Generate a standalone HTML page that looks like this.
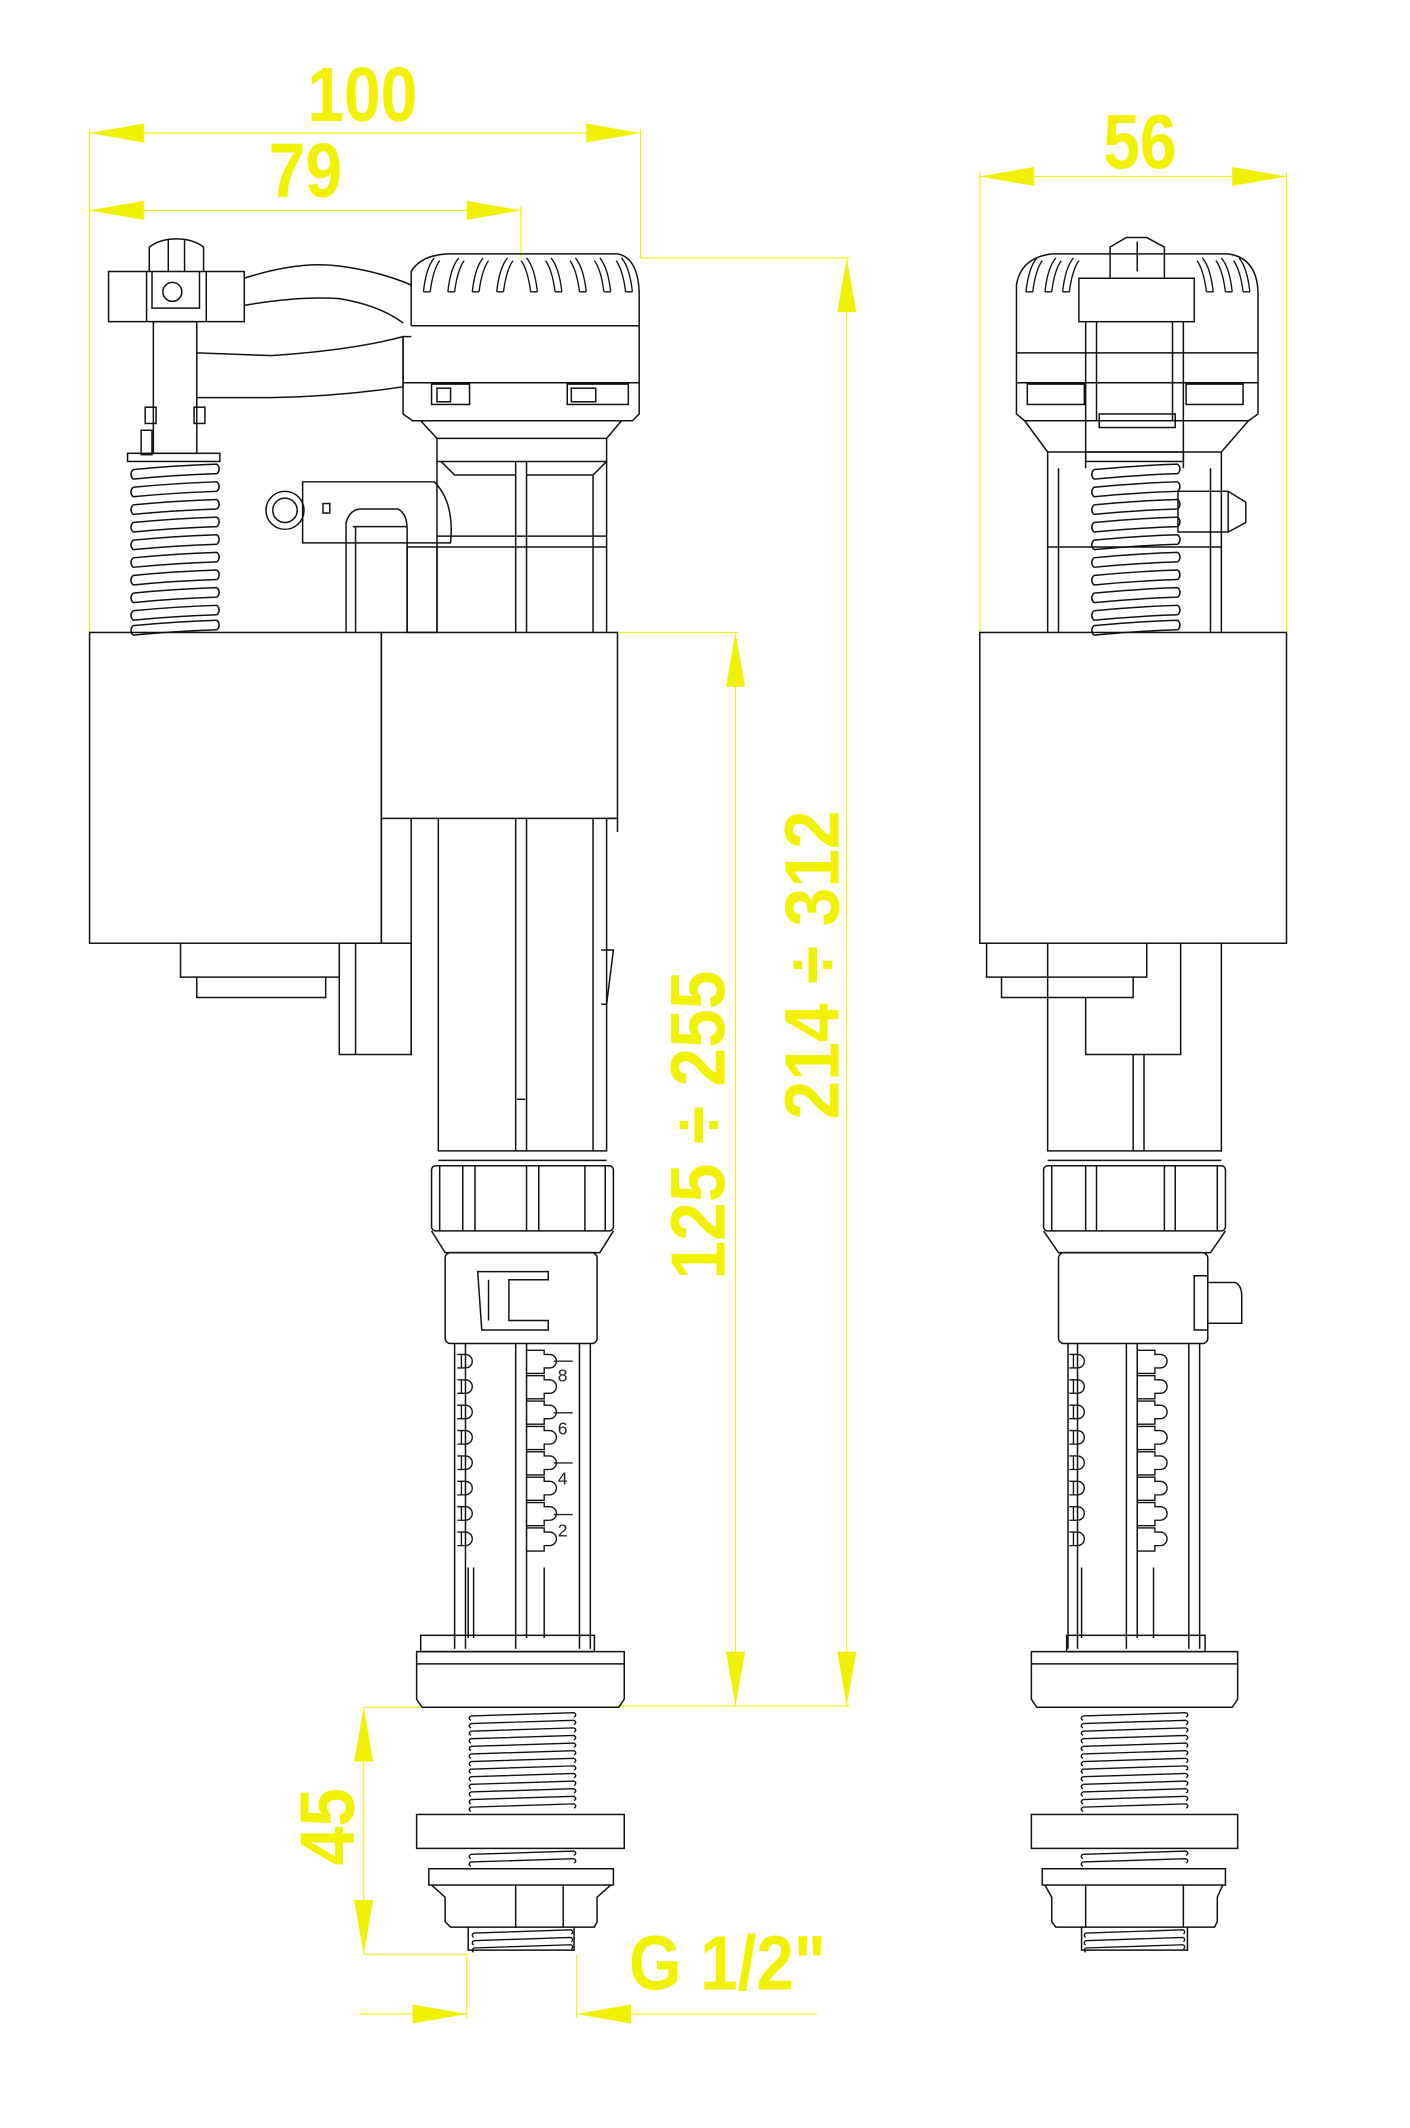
<!DOCTYPE html>
<html><head><meta charset="utf-8">
<style>
html,body{margin:0;padding:0;background:#fff;}
svg{display:block;}
.y{fill:#f2f200;font-family:"Liberation Sans Narrow","Liberation Sans",sans-serif;font-weight:bold;}
</style></head>
<body>
<svg width="1410" height="2128" viewBox="0 0 1039 1568" xmlns="http://www.w3.org/2000/svg" xmlns:xlink="http://www.w3.org/1999/xlink">
<defs>
 <path id="coil" d="M0,4 Q31,1 62,0 M0,11 Q31,8 62,7 M0,4 Q-3,7.5 0,11 M62,0 Q65,3.5 62,7" stroke="#111" stroke-width="1.1" fill="none"/>
 <path id="thr" d="M0,2.4 L76,0 M0,2.4 q-2.5,1.6 0,3.2 M76,0 q2.5,1.6 0,3.2" stroke="#111" stroke-width="1" fill="none"/>
 <path id="thr2" d="M0,2.4 L72,0 M0,2.4 q-2,1.6 0,3.2 M72,0 q2,1.6 0,3.2" stroke="#111" stroke-width="1" fill="none"/>
 <path id="tl" d="M0,-5 L6,-5 A5,5 0 0 1 6,5 L0,5 M3,-5 L3,5" stroke="#111" stroke-width="1" fill="none"/>
 <path id="tc" d="M0,-8 L13,-8 L13,-5 L17,-5 A5,5 0 0 1 17,5 L13,5 L13,9 L0,9" stroke="#111" stroke-width="1" fill="none"/>
 <path id="rib" d="M0,26 Q2,8 8,1 M5,26 Q7,10 12,3 M0,26 L5,26" stroke="#111" stroke-width="1" fill="none"/>
 <path id="ribr" d="M12,26 Q10,8 4,1 M7,26 Q5,10 0,3 M7,26 L12,26" stroke="#111" stroke-width="1" fill="none"/>
</defs>
<rect width="1039" height="1568" fill="#fff"/>
<!-- YELLOW DIMENSIONS -->
<g stroke="#f0f000" stroke-width="0.8" fill="none">
  <line x1="66" y1="98" x2="472" y2="98"/>
  <line x1="66" y1="155" x2="384" y2="155"/>
  <line x1="66" y1="95" x2="66" y2="466"/>
  <line x1="472" y1="95" x2="472" y2="190"/>
  <line x1="384" y1="152" x2="384" y2="190"/>
  <line x1="722" y1="130" x2="948" y2="130"/>
  <line x1="722" y1="127" x2="722" y2="466"/>
  <line x1="948" y1="127" x2="948" y2="466"/>
  <line x1="472" y1="190" x2="626" y2="190"/>
  <line x1="624" y1="190" x2="624" y2="1257"/>
  <line x1="455" y1="466" x2="544" y2="466"/>
  <line x1="542" y1="466" x2="542" y2="1257"/>
  <line x1="455" y1="1257" x2="626" y2="1257"/>
  <line x1="268" y1="1258" x2="310" y2="1258"/>
  <line x1="268" y1="1258" x2="268" y2="1440"/>
  <line x1="268" y1="1440" x2="345" y2="1440"/>
  <line x1="344" y1="1440" x2="344" y2="1487"/>
  <line x1="425" y1="1440" x2="425" y2="1487"/>
  <line x1="265" y1="1484" x2="344" y2="1484"/>
  <line x1="425" y1="1484" x2="602" y2="1484"/>
</g>
<g fill="#f0f000">
  <polygon points="66,98 106,91 106,105"/><polygon points="472,98 432,91 432,105"/>
  <polygon points="66,155 106,148 106,162"/><polygon points="384,155 344,148 344,162"/>
  <polygon points="722,130 762,123 762,137"/><polygon points="948,130 908,123 908,137"/>
  <polygon points="624,190 617,230 631,230"/><polygon points="624,1257 617,1217 631,1217"/>
  <polygon points="542,466 535,506 549,506"/><polygon points="542,1257 535,1217 549,1217"/>
  <polygon points="268,1258 261,1298 275,1298"/><polygon points="268,1440 261,1400 275,1400"/>
  <polygon points="344,1484 304,1477 304,1491"/><polygon points="425,1484 465,1477 465,1491"/>
</g>
<text class="y" font-size="54" text-anchor="middle" transform="translate(267,89) scale(0.9,1.05)">100</text>
<text class="y" font-size="54" text-anchor="middle" transform="translate(225,145) scale(0.9,1.05)">79</text>
<text class="y" font-size="54" text-anchor="middle" transform="translate(840,124) scale(0.9,1.05)">56</text>
<text class="y" font-size="54" text-anchor="middle" transform="translate(618,711) rotate(-90) scale(0.95,1.05)">214 ÷ 312</text>
<text class="y" font-size="54" text-anchor="middle" transform="translate(534,829) rotate(-90) scale(0.95,1.05)">125 ÷ 255</text>
<text class="y" font-size="54" text-anchor="middle" transform="translate(261,1346) rotate(-90) scale(0.95,1.05)">45</text>
<text class="y" font-size="54" text-anchor="middle" transform="translate(536,1466) scale(0.92,1.05)">G 1/2"</text>

<!-- BLACK DRAWING -->
<g stroke="#111" stroke-width="1.1" fill="none">
 <!-- LEFT VIEW: head -->
 <path d="M303,240 L303,200 Q310,188 330,187 L455,187 Q470,190 471,215 L471,282 L297,282 L297,305 L304,310 L466,310 L471,305 L471,282"/>
 <line x1="303" y1="240" x2="471" y2="240"/>
 <path d="M297,282 L297,248 L303,248"/>
 <rect x="318" y="283" width="28" height="15"/><rect x="418" y="283" width="45" height="15"/>
 <rect x="421" y="286" width="18" height="10"/><rect x="322" y="286" width="10" height="10"/>
 <path d="M310,310 L322,323 L322,466 M458,310 L447,323 L447,466"/>
 <line x1="322" y1="323" x2="447" y2="323"/>
 <line x1="322" y1="340" x2="447" y2="340"/>
 <line x1="380" y1="340" x2="380" y2="466"/><line x1="388" y1="340" x2="388" y2="466"/>
 <path d="M325,340 L335,350 L380,350 M388,350 L437,350 L447,340"/>
 <line x1="437" y1="350" x2="437" y2="466"/>
 <line x1="322" y1="395" x2="447" y2="395"/><line x1="322" y1="403" x2="447" y2="403"/>
 <!-- side inlet -->
 <path d="M223,355 L320,355 Q335,370 332,400 L223,400 Z"/>
 <circle cx="210" cy="376" r="14"/><circle cx="210" cy="376" r="9"/>
 <rect x="238" y="371" width="5" height="7"/>
 <path d="M255,466 L255,385 Q258,375 266,375 L293,375 Q300,378 300,390 L300,466"/>
 <line x1="260" y1="388" x2="300" y2="388"/><line x1="262" y1="388" x2="262" y2="466"/>
 <rect x="300" y="403" width="22" height="63"/>
 <!-- lever -->
 <path d="M80,237 L80,200 L180,200 L180,237 Z"/>
 <line x1="108" y1="200" x2="108" y2="237"/><line x1="152" y1="200" x2="152" y2="237"/>
 <path d="M112,200 L112,227 L147,227 L147,200"/><circle cx="127" cy="215" r="7"/>
 <path d="M110,200 L110,182 Q118,176 130,176 Q142,176 150,182 L150,200"/>
 <line x1="124" y1="177" x2="124" y2="200"/><line x1="136" y1="177" x2="136" y2="200"/>
 <path d="M180,205 Q220,192 250,196 Q280,200 303,210"/>
 <path d="M180,225 Q220,218 250,220 Q280,225 297,238"/>
 <path d="M145,260 L200,262 Q260,258 297,248 L297,285 Q250,292 200,293 L145,293"/>
 <!-- rod -->
 <rect x="113" y="237" width="32" height="97"/>
 <rect x="107" y="300" width="8" height="12"/><rect x="143" y="300" width="8" height="12"/>
 <rect x="104" y="317" width="8" height="18"/>
 <rect x="94" y="334" width="68" height="6"/>
 <!-- float left -->
 <rect x="66" y="466" width="215" height="229"/>
 <rect x="281" y="466" width="174" height="137"/>
 <path d="M133,695 L133,720 L145,720 L145,735 L240,735 L240,720 L250,720 L250,695"/>
 <line x1="145" y1="720" x2="240" y2="720"/>
 <rect x="250" y="695" width="53" height="82"/><line x1="262" y1="695" x2="262" y2="777"/>
 <line x1="281" y1="603" x2="281" y2="695"/><line x1="303" y1="603" x2="303" y2="777"/>
 <!-- central tube -->
 <path d="M323,603 L323,848 L447,848 L447,603"/><line x1="323" y1="855" x2="447" y2="855"/>
 <line x1="380" y1="603" x2="380" y2="848"/><line x1="388" y1="603" x2="388" y2="848"/>
 <line x1="437" y1="603" x2="437" y2="848"/><line x1="381" y1="810" x2="387" y2="810"/>
 <path d="M447,603 L455,603 L455,613 M443,700 L452,700 L447,740 L443,740"/>
 <!-- nut -->
 <rect x="318" y="859" width="134" height="48" rx="3"/>
 <line x1="324" y1="859" x2="324" y2="907"/><line x1="446" y1="859" x2="446" y2="907"/>
 <line x1="341" y1="859" x2="341" y2="907"/><line x1="350" y1="859" x2="350" y2="907"/>
 <line x1="388" y1="859" x2="388" y2="907"/><line x1="397" y1="859" x2="397" y2="907"/>
 <line x1="431" y1="859" x2="431" y2="907"/>
 <path d="M318,907 L328,923 L442,923 L452,907"/>
 <rect x="328" y="923" width="112" height="67" rx="4"/>
 <path d="M352,937 L404,937 L404,943 L375,943 L375,973 L404,973 L404,980 L355,980 Z"/>
 <line x1="360" y1="943" x2="360" y2="973"/>
 <!-- scale tube left -->
 <line x1="335" y1="990" x2="335" y2="1215"/><line x1="343" y1="990" x2="343" y2="1215"/>
 <line x1="380" y1="990" x2="380" y2="1215"/><line x1="427" y1="990" x2="427" y2="1215"/><line x1="435" y1="990" x2="435" y2="1215"/>
 <path d="M388,990 L388,1207 M401,1207 L401,1155 M345,1155 L345,1207 M349,1155 L349,1207"/>
 <rect x="310" y="1205" width="128" height="12"/>
 <path d="M307,1217 L460,1217 L460,1252 L456,1258 L311,1258 L307,1252 Z"/><line x1="307" y1="1226" x2="460" y2="1226"/>
 <!-- bottom left -->
 <rect x="307" y="1337" width="153" height="25"/>
 <rect x="316" y="1377" width="136" height="12"/>
 <path d="M318,1389 L328,1398 L328,1416 L332,1420 L438,1420 L440,1416 L440,1398 L450,1389"/>
 <line x1="380" y1="1389" x2="380" y2="1420"/><line x1="415" y1="1389" x2="415" y2="1420"/>
 <path d="M345,1420 L345,1437 L423,1437 L423,1420"/>
 <!-- RIGHT VIEW -->
 <path d="M749,240 L749,210 Q752,190 775,187 L905,187 Q926,190 927,215 L927,282 L749,282 Z"/>
 <path d="M749,282 L749,305 L755,310 L920,310 L927,305 L927,282"/>
 <line x1="749" y1="260" x2="927" y2="260"/>
 <rect x="757" y="283" width="42" height="15"/><rect x="874" y="283" width="42" height="15"/>
 <rect x="795" y="205" width="85" height="32" fill="#fff"/>
 <path d="M818,205 L818,182 L830,175 L845,175 L858,182 L858,205"/><line x1="838" y1="178" x2="838" y2="200"/>
 <path d="M755,310 L772,333 L900,333 L920,310"/>
 <path d="M800,237 L800,345 M872,237 L872,345 M808,237 L808,310 M864,237 L864,310"/>
 <rect x="810" y="305" width="56" height="10"/>
 <line x1="772" y1="333" x2="772" y2="466"/><line x1="900" y1="333" x2="900" y2="466"/>
 <line x1="780" y1="345" x2="780" y2="466"/><line x1="892" y1="345" x2="892" y2="466"/>
 <line x1="772" y1="403" x2="900" y2="403"/>
 <rect x="800" y="333" width="72" height="7"/>
 <path d="M868,362 L905,362 L918,370 L918,385 L905,392 L868,392 Z"/><line x1="905" y1="362" x2="905" y2="392"/>
 <rect x="722" y="466" width="226" height="229"/>
 <path d="M727,695 L727,720 L738,720 L738,735 L835,735 L835,720 L845,720 L845,695"/>
 <line x1="738" y1="720" x2="835" y2="720"/>
 <path d="M772,695 L772,848 L900,848 L900,695 M772,855 L900,855"/>
 <path d="M800,735 L800,777 L870,777 L870,695"/>
 <line x1="835" y1="777" x2="835" y2="848"/><line x1="843" y1="777" x2="843" y2="848"/>
 <rect x="769" y="859" width="134" height="48" rx="3"/>
 <line x1="775" y1="859" x2="775" y2="907"/><line x1="897" y1="859" x2="897" y2="907"/>
 <line x1="800" y1="859" x2="800" y2="907"/><line x1="808" y1="859" x2="808" y2="907"/>
 <line x1="858" y1="859" x2="858" y2="907"/><line x1="866" y1="859" x2="866" y2="907"/>
 <path d="M769,907 L780,923 L892,923 L903,907"/>
 <rect x="780" y="923" width="110" height="67" rx="4"/>
 <path d="M880,940 L890,940 L890,945 L910,945 Q915,947 915,955 L915,975 L890,975 L890,980 L880,980 Z"/>
 <line x1="787" y1="990" x2="787" y2="1215"/><line x1="794" y1="990" x2="794" y2="1215"/>
 <line x1="830" y1="990" x2="830" y2="1215"/><line x1="876" y1="990" x2="876" y2="1215"/><line x1="884" y1="990" x2="884" y2="1215"/>
 <path d="M838,990 L838,1207 M850,1207 L850,1155 M797,1155 L797,1207"/>
 <rect x="786" y="1205" width="102" height="12"/>
 <path d="M760,1217 L912,1217 L912,1252 L908,1258 L764,1258 L760,1252 Z"/><line x1="760" y1="1226" x2="912" y2="1226"/>
 <rect x="760" y="1337" width="152" height="25"/>
 <rect x="768" y="1377" width="135" height="12"/>
 <path d="M770,1389 L775,1398 L775,1416 L778,1420 L895,1420 L897,1416 L897,1398 L901,1389"/>
 <line x1="800" y1="1389" x2="800" y2="1420"/><line x1="872" y1="1389" x2="872" y2="1420"/>
 <path d="M797,1420 L797,1437 L875,1437 L875,1420"/>
</g>
<!-- springs -->
<g>
 <use xlink:href="#coil" x="98" y="342"/><use xlink:href="#coil" x="98" y="355"/><use xlink:href="#coil" x="98" y="368"/><use xlink:href="#coil" x="98" y="381"/><use xlink:href="#coil" x="98" y="394"/><use xlink:href="#coil" x="98" y="407"/><use xlink:href="#coil" x="98" y="420"/><use xlink:href="#coil" x="98" y="433"/><use xlink:href="#coil" x="98" y="446"/><use xlink:href="#coil" x="98" y="457"/>
 <use xlink:href="#coil" x="806" y="342"/><use xlink:href="#coil" x="806" y="355"/><use xlink:href="#coil" x="806" y="368"/><use xlink:href="#coil" x="806" y="381"/><use xlink:href="#coil" x="806" y="394"/><use xlink:href="#coil" x="806" y="407"/><use xlink:href="#coil" x="806" y="420"/><use xlink:href="#coil" x="806" y="433"/><use xlink:href="#coil" x="806" y="446"/><use xlink:href="#coil" x="806" y="457"/>
</g>
<!-- threads -->
<g>
 <use xlink:href="#thr" x="347" y="1262"/><use xlink:href="#thr" x="347" y="1267.6"/><use xlink:href="#thr" x="347" y="1273.2"/><use xlink:href="#thr" x="347" y="1278.8"/><use xlink:href="#thr" x="347" y="1284.4"/><use xlink:href="#thr" x="347" y="1290"/><use xlink:href="#thr" x="347" y="1295.6"/><use xlink:href="#thr" x="347" y="1301.2"/><use xlink:href="#thr" x="347" y="1306.8"/><use xlink:href="#thr" x="347" y="1312.4"/><use xlink:href="#thr" x="347" y="1318"/><use xlink:href="#thr" x="347" y="1323.6"/><use xlink:href="#thr" x="347" y="1329.2"/>
 <use xlink:href="#thr" x="347" y="1364"/><use xlink:href="#thr" x="347" y="1369.6"/>
 <use xlink:href="#thr2" x="349" y="1422"/><use xlink:href="#thr2" x="349" y="1427.6"/><use xlink:href="#thr2" x="349" y="1433"/>
 <use xlink:href="#thr" x="798" y="1262"/><use xlink:href="#thr" x="798" y="1267.6"/><use xlink:href="#thr" x="798" y="1273.2"/><use xlink:href="#thr" x="798" y="1278.8"/><use xlink:href="#thr" x="798" y="1284.4"/><use xlink:href="#thr" x="798" y="1290"/><use xlink:href="#thr" x="798" y="1295.6"/><use xlink:href="#thr" x="798" y="1301.2"/><use xlink:href="#thr" x="798" y="1306.8"/><use xlink:href="#thr" x="798" y="1312.4"/><use xlink:href="#thr" x="798" y="1318"/><use xlink:href="#thr" x="798" y="1323.6"/><use xlink:href="#thr" x="798" y="1329.2"/>
 <use xlink:href="#thr" x="798" y="1364"/><use xlink:href="#thr" x="798" y="1369.6"/>
 <use xlink:href="#thr2" x="800" y="1422"/><use xlink:href="#thr2" x="800" y="1427.6"/><use xlink:href="#thr2" x="800" y="1433"/>
</g>
<!-- teeth -->
<g>
 <use xlink:href="#tl" x="337" y="1003"/><use xlink:href="#tl" x="337" y="1021.7"/><use xlink:href="#tl" x="337" y="1040.4"/><use xlink:href="#tl" x="337" y="1059.1"/><use xlink:href="#tl" x="337" y="1077.8"/><use xlink:href="#tl" x="337" y="1096.5"/><use xlink:href="#tl" x="337" y="1115.2"/><use xlink:href="#tl" x="337" y="1133.9"/>
 <use xlink:href="#tc" x="388" y="1003"/><use xlink:href="#tc" x="388" y="1021.7"/><use xlink:href="#tc" x="388" y="1040.4"/><use xlink:href="#tc" x="388" y="1059.1"/><use xlink:href="#tc" x="388" y="1077.8"/><use xlink:href="#tc" x="388" y="1096.5"/><use xlink:href="#tc" x="388" y="1115.2"/><use xlink:href="#tc" x="388" y="1133.9"/>
 <use xlink:href="#tl" x="788" y="1003"/><use xlink:href="#tl" x="788" y="1021.7"/><use xlink:href="#tl" x="788" y="1040.4"/><use xlink:href="#tl" x="788" y="1059.1"/><use xlink:href="#tl" x="788" y="1077.8"/><use xlink:href="#tl" x="788" y="1096.5"/><use xlink:href="#tl" x="788" y="1115.2"/><use xlink:href="#tl" x="788" y="1133.9"/>
 <use xlink:href="#tc" x="838" y="1003"/><use xlink:href="#tc" x="838" y="1021.7"/><use xlink:href="#tc" x="838" y="1040.4"/><use xlink:href="#tc" x="838" y="1059.1"/><use xlink:href="#tc" x="838" y="1077.8"/><use xlink:href="#tc" x="838" y="1096.5"/><use xlink:href="#tc" x="838" y="1115.2"/><use xlink:href="#tc" x="838" y="1133.9"/>
</g>
<!-- ribs -->
<g>
 <use xlink:href="#rib" x="312" y="189"/><use xlink:href="#rib" x="330" y="189"/><use xlink:href="#rib" x="348" y="189"/><use xlink:href="#rib" x="366" y="189"/><use xlink:href="#ribr" x="384" y="189"/><use xlink:href="#ribr" x="402" y="189"/><use xlink:href="#ribr" x="420" y="189"/><use xlink:href="#ribr" x="438" y="189"/><use xlink:href="#ribr" x="454" y="189"/>
 <use xlink:href="#rib" x="756" y="189"/><use xlink:href="#rib" x="770" y="189"/><use xlink:href="#rib" x="783" y="189"/>
 <use xlink:href="#ribr" x="882" y="189"/><use xlink:href="#ribr" x="896" y="189"/><use xlink:href="#ribr" x="909" y="189"/>
</g>
<g font-family="Liberation Sans,sans-serif" font-size="13" fill="#222">
 <text x="411" y="1018">8</text><text x="411" y="1057">6</text><text x="411" y="1094">4</text><text x="411" y="1132">2</text>
</g>
<g stroke="#222" stroke-width="1"><line x1="408" y1="1003" x2="422" y2="1003"/><line x1="408" y1="1041" x2="422" y2="1041"/><line x1="408" y1="1078" x2="422" y2="1078"/><line x1="408" y1="1116" x2="422" y2="1116"/></g>
</svg>
</body></html>
